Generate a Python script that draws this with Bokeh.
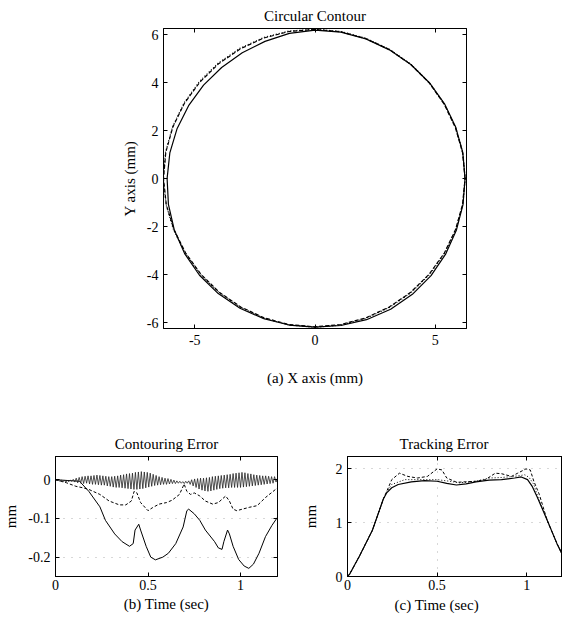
import numpy as np
from bokeh.plotting import figure
from bokeh.layouts import column, row
from bokeh.models import LinearAxis, Range1d, Title, NumeralTickFormatter, FixedTicker
from bokeh.embed import file_html
from bokeh.resources import INLINE

FONT = "Liberation Serif"

# ---------------- data ----------------
# circular contour: radius (mm) read at every 10 degrees (0..350, ccw from +x)
angles_deg = [0, 10, 20, 30, 40, 50, 60, 70, 80, 90, 100, 110, 120, 130, 140, 150, 160, 170,
              180, 190, 200, 210, 220, 230, 240, 250, 260, 270, 280, 290, 300, 310, 320, 330, 340, 350]
r_solid = [6.24, 6.24, 6.23, 6.22, 6.21, 6.20, 6.19, 6.19, 6.19, 6.18, 6.14, 6.08, 6.05, 6.04, 6.05, 6.07, 6.10, 6.13,
           6.15, 6.19, 6.23, 6.26, 6.27, 6.26, 6.24, 6.22, 6.20, 6.19, 6.22, 6.26, 6.29, 6.30, 6.30, 6.28, 6.26, 6.25]
r_dashed = [6.24, 6.23, 6.21, 6.20, 6.20, 6.20, 6.20, 6.20, 6.21, 6.21, 6.22, 6.23, 6.23, 6.24, 6.25, 6.27, 6.29, 6.30,
            6.30, 6.28, 6.24, 6.21, 6.20, 6.19, 6.18, 6.18, 6.18, 6.18, 6.18, 6.18, 6.18, 6.19, 6.20, 6.21, 6.22, 6.23]
r_dotted = [6.25, 6.24, 6.22, 6.21, 6.21, 6.21, 6.21, 6.21, 6.22, 6.22, 6.24, 6.25, 6.26, 6.27, 6.28, 6.29, 6.30, 6.31,
            6.31, 6.29, 6.26, 6.23, 6.22, 6.21, 6.20, 6.20, 6.20, 6.20, 6.20, 6.20, 6.20, 6.21, 6.22, 6.23, 6.23, 6.24]

# contouring error (mm) vs time (sec)
ce_solid_t = [0, 0.13, 0.18, 0.24, 0.27, 0.32, 0.36, 0.40, 0.42, 0.43, 0.45, 0.46, 0.49, 0.515, 0.54, 0.58, 0.61,
              0.65, 0.69, 0.71, 0.72, 0.75, 0.78, 0.81, 0.86, 0.88, 0.90, 0.91, 0.93, 0.94, 0.96, 0.99, 1.02,
              1.045, 1.07, 1.10, 1.135, 1.17, 1.2]
ce_solid = [0, -0.004, -0.03, -0.07, -0.105, -0.14, -0.16, -0.172, -0.165, -0.13, -0.115, -0.13, -0.172, -0.2,
            -0.207, -0.2, -0.19, -0.165, -0.122, -0.08, -0.076, -0.088, -0.105, -0.13, -0.16, -0.176, -0.18,
            -0.16, -0.13, -0.14, -0.172, -0.206, -0.223, -0.229, -0.218, -0.19, -0.147, -0.118, -0.097]
ce_dashed_t = [0, 0.06, 0.11, 0.15, 0.18, 0.24, 0.29, 0.345, 0.38, 0.41, 0.425, 0.44, 0.46, 0.50, 0.525, 0.56,
               0.60, 0.63, 0.67, 0.69, 0.695, 0.71, 0.73, 0.75, 0.78, 0.81, 0.85, 0.88, 0.92, 0.94, 0.96, 0.98,
               1.01, 1.05, 1.09, 1.135, 1.2]
ce_dashed = [0, -0.008, -0.017, -0.021, -0.025, -0.038, -0.055, -0.065, -0.065, -0.055, -0.03, -0.034, -0.059,
             -0.08, -0.072, -0.063, -0.059, -0.053, -0.038, -0.017, -0.011, -0.03, -0.038, -0.034, -0.042, -0.055,
             -0.063, -0.059, -0.042, -0.055, -0.076, -0.08, -0.076, -0.071, -0.067, -0.046, -0.021]
# dense oscillating trace, one sample every 0.008 s
ce_noisy_dt = 0.008
ce_noisy = [0, -0.002, -0.001, -0.004, -0.001, -0.005, -0.002, -0.006, -0.002, -0.005, -0.001, -0.004, 0.001,
            -0.006, 0.004, -0.008, 0.006, -0.009, 0.008, -0.01, 0.009, -0.009, 0.01, -0.011, 0.01, -0.012,
            0.011, -0.012, 0.012, -0.013, 0.011, -0.014, 0.01, -0.014, 0.009, -0.016, 0.008, -0.017,
            0.008, -0.019, 0.009, -0.02, 0.01, -0.02, 0.012, -0.021, 0.013, -0.022, 0.015, -0.023, 0.016,
            -0.024, 0.017, -0.025, 0.019, -0.025, 0.02, -0.024, 0.021, -0.023, 0.02, -0.021, 0.019,
            -0.019, 0.017, -0.017, 0.014, -0.015, 0.011, -0.014, 0.008, -0.013, 0.006, -0.012, 0.004, -0.012,
            0.003, -0.011, 0.001, -0.01, -0.001, -0.01, -0.003, -0.009, -0.004, -0.009, -0.005, -0.01,
            -0.004, -0.009, -0.003, -0.012, 0.0, -0.016, 0.002, -0.02, 0.003, -0.024, 0.004, -0.027, 0.004,
            -0.029, 0.005, -0.03, 0.006, -0.029, 0.008, -0.027, 0.009, -0.025, 0.01, -0.023, 0.011,
            -0.022, 0.012, -0.021, 0.013, -0.021, 0.014, -0.02, 0.016, -0.02, 0.017, -0.02, 0.018, -0.02,
            0.019, -0.019, 0.018, -0.018, 0.016, -0.017, 0.015, -0.016, 0.013, -0.015, 0.012, -0.014,
            0.011, -0.013, 0.01, -0.012, 0.01, -0.011, 0.009, -0.01, 0.008, -0.009, 0.008, -0.006, 0.004]

# tracking error (mm) vs time (sec)
te_solid_t = [0, 0.013, 0.067, 0.139, 0.2, 0.22, 0.247, 0.283, 0.356, 0.43, 0.5, 0.554, 0.608, 0.662, 0.717,
              0.79, 0.86, 0.933, 0.97, 1.005, 1.03, 1.06, 1.114, 1.168, 1.2]
te_solid = [0, 0.05, 0.38, 0.86, 1.44, 1.56, 1.65, 1.71, 1.76, 1.78, 1.77, 1.73, 1.70, 1.72, 1.76,
            1.79, 1.80, 1.83, 1.85, 1.80, 1.68, 1.47, 1.05, 0.62, 0.40]
te_dashed_t = [0, 0.013, 0.067, 0.139, 0.2, 0.22, 0.247, 0.29, 0.337, 0.39, 0.446, 0.5, 0.527, 0.554, 0.61, 0.66,
               0.717, 0.77, 0.825, 0.86, 0.915, 0.95, 0.996, 1.02, 1.04, 1.07, 1.114, 1.168, 1.2]
te_dashed = [0, 0.05, 0.38, 0.86, 1.44, 1.59, 1.80, 1.92, 1.86, 1.83, 1.86, 2.0, 1.98, 1.83, 1.75, 1.76,
             1.77, 1.80, 1.92, 1.91, 1.86, 1.92, 2.0, 1.98, 1.77, 1.53, 1.05, 0.62, 0.40]
te_dotted_t = [0, 0.013, 0.067, 0.139, 0.2, 0.22, 0.247, 0.32, 0.39, 0.5, 0.57, 0.626, 0.717, 0.79, 0.86, 0.93,
               0.99, 1.014, 1.04, 1.06, 1.114, 1.168, 1.2]
te_dotted = [0, 0.05, 0.38, 0.86, 1.44, 1.58, 1.71, 1.80, 1.80, 1.80, 1.77, 1.74, 1.77, 1.83, 1.84, 1.86,
             1.89, 1.84, 1.71, 1.50, 1.05, 0.62, 0.40]

circ_xticks = [-5, 0, 5]
circ_yticks = [-6, -4, -2, 0, 2, 4, 6]
time_ticks = [0, 0.5, 1]
ce_yticks = [-0.2, -0.1, 0]
te_yticks = [0, 1, 2]


# ---------------- helpers ----------------
def style_axis(ax, ticks, size="14px"):
    ax.ticker = FixedTicker(ticks=ticks)
    ax.formatter = NumeralTickFormatter(format="0.[0]")
    ax.major_tick_in = 4
    ax.major_tick_out = 0
    ax.minor_tick_line_color = None
    ax.axis_line_color = "black"
    ax.major_tick_line_color = "black"
    ax.major_label_text_font = FONT
    ax.major_label_text_font_size = size
    ax.major_label_text_color = "black"
    ax.axis_label_text_font = FONT
    ax.axis_label_text_font_size = "15px"
    ax.axis_label_text_font_style = "normal"
    ax.axis_label_text_color = "black"


def mirror_axis(p, where, ticks):
    ax = LinearAxis()
    style_axis(ax, ticks)
    ax.major_label_text_font_size = "1px"
    ax.major_label_text_color = None
    ax.major_label_standoff = 0
    p.add_layout(ax, where)


def style_title(t, align="center", offset=0):
    t.text_font = FONT
    t.text_font_size = "15px"
    t.text_font_style = "normal"
    t.text_color = "black"
    t.align = align
    t.offset = offset


def base(p):
    p.outline_line_color = "black"
    p.background_fill_color = "white"
    p.border_fill_color = "white"


# ---------------- circular contour ----------------
p1 = figure(frame_width=303, frame_height=300, x_range=Range1d(-6.3, 6.3), y_range=Range1d(-6.25, 6.25),
            min_border_left=163, min_border_right=92, min_border_top=28, min_border_bottom=72,
            output_backend="svg", toolbar_location=None, title="Circular Contour")
base(p1)
p1.grid.visible = False
style_title(p1.title)
th = np.deg2rad(np.array(angles_deg + [angles_deg[0] + 360]))
for r, dash in ((r_solid, "solid"), (r_dashed, "4 2"), (r_dotted, "1 2")):
    rr = np.array(r + [r[0]])
    p1.line(rr * np.cos(th), rr * np.sin(th), line_color="black", line_width=1.2, line_dash=dash)
style_axis(p1.xaxis[0], circ_xticks)
style_axis(p1.yaxis[0], circ_yticks)
p1.xaxis[0].axis_label = "(a) X axis (mm)"
p1.yaxis[0].axis_label = "Y axis (mm)"
p1.xaxis[0].major_label_standoff = 6
p1.xaxis[0].axis_label_standoff = 22
p1.yaxis[0].axis_label_standoff = 6
mirror_axis(p1, "above", circ_xticks)
mirror_axis(p1, "right", circ_yticks)

# ---------------- contouring error ----------------
p2 = figure(frame_width=222, frame_height=120, x_range=Range1d(0, 1.2), y_range=Range1d(-0.25, 0.06),
            min_border_left=51, min_border_right=10, min_border_top=56, min_border_bottom=10,
            output_backend="svg", toolbar_location=None, title="Contouring Error")
base(p2)
style_title(p2.title)
p2.xgrid.visible = False
p2.ygrid.ticker = FixedTicker(ticks=[-0.2, -0.1])
p2.ygrid.grid_line_color = "#b0b0b0"
p2.ygrid.grid_line_dash = "1 7"
p2.line(ce_solid_t, ce_solid, line_color="black", line_width=1)
p2.line(ce_dashed_t, ce_dashed, line_color="black", line_width=1, line_dash="3 2")
p2.line(np.arange(len(ce_noisy)) * ce_noisy_dt, ce_noisy, line_color="#222222", line_width=0.8)
style_axis(p2.xaxis[0], time_ticks)
style_axis(p2.yaxis[0], ce_yticks)
p2.xaxis[0].axis_label = "(b) Time (sec)"
p2.yaxis[0].axis_label = "mm"
p2.xaxis[0].major_label_standoff = 3
p2.xaxis[0].axis_label_standoff = 3
p2.yaxis[0].axis_label_standoff = 6
mirror_axis(p2, "above", time_ticks)
mirror_axis(p2, "right", ce_yticks)

# ---------------- tracking error ----------------
p3 = figure(frame_width=215, frame_height=120, x_range=Range1d(0, 1.2), y_range=Range1d(0, 2.23),
            min_border_left=60, min_border_right=0, min_border_top=56, min_border_bottom=10,
            output_backend="svg", toolbar_location=None, title="Tracking Error")
base(p3)
style_title(p3.title, align="left", offset=52)
p3.xgrid.ticker = FixedTicker(ticks=[0.5])
p3.ygrid.ticker = FixedTicker(ticks=[1, 2])
p3.grid.grid_line_color = "#b0b0b0"
p3.grid.grid_line_dash = "1 7"
p3.line(te_solid_t, te_solid, line_color="black", line_width=1.2)
p3.line(te_dashed_t, te_dashed, line_color="black", line_width=1, line_dash="3 2")
p3.line(te_dotted_t, te_dotted, line_color="black", line_width=1, line_dash="1 2")
style_axis(p3.xaxis[0], time_ticks)
style_axis(p3.yaxis[0], te_yticks)
p3.yaxis[0].axis_label = "mm"
p3.xaxis[0].major_label_standoff = 3
p3.yaxis[0].axis_label_standoff = 14
xl = Title(text="(c) Time (sec)", standoff=4)
style_title(xl, align="left", offset=47)
p3.add_layout(xl, "below")
mirror_axis(p3, "above", time_ticks)

layout = column(p1, row(p2, p3))
open("out.html", "w").write(file_html(layout, INLINE))
